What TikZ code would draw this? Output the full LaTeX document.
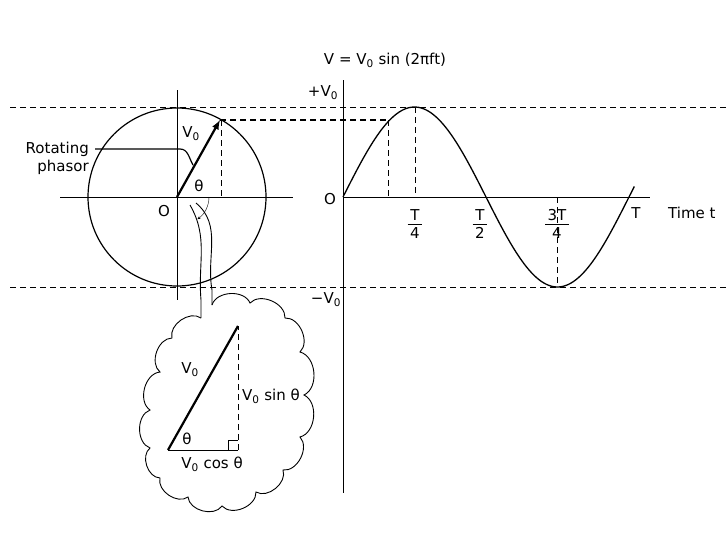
\documentclass[tikz,border=0pt]{standalone}
\usepackage{fontspec}
\setmainfont{DejaVu Sans}
\newcommand{\fr}[2]{\begin{tabular}{@{\,}c@{\,}}#1\\[-2pt]\hline\rule{0pt}{14pt}#2\end{tabular}}
\begin{document}
\begin{tikzpicture}[x=1pt,y=-1pt,font=\fontsize{15}{18}\selectfont,
  ax/.style={line width=0.8pt},
  dsh/.style={dashed,dash pattern=on 6pt off 4pt,line width=0.8pt},
  lbl/.style={inner sep=1pt}]
\useasboundingbox (0,0) rectangle (728,546);
% dashed level lines
\draw[dsh] (10,107) -- (728,107);
\draw[dsh] (10,287) -- (728,287);
% circle diagram
\coordinate (O) at (177,197);
\draw[line width=1.2pt] (O) circle (89);
\draw[ax] (60,197) -- (293,197);
\draw[ax] (177,90) -- (177,300);
\coordinate (tip) at (220,120);
\draw[line width=2.2pt,-latex] (O) -- (tip);
\draw[dsh,line width=1.2pt] (tip) -- (388,120);
\draw[dsh] (221,120) -- (221,197);
\draw[->,>=stealth] (209,197) arc (0:55:27);
\node[lbl] (th) at (199,186) {θ};
\node[lbl] (v0) at (191,134) {V\textsubscript{0}};
\node[lbl] (o1) at (164,211) {O};
\node[lbl,align=right,anchor=east] (rp) at (90,158) {Rotating\\phasor};
\draw[line width=1.2pt] (95,149) -- (180,149) to[out=0,in=120] (193,165);
% tail to cloud
\draw[line width=0.9pt] (190,205) to[out=-60,in=95] (201,300) -- (201,318);
\draw[line width=0.9pt] (196,203) to[out=-40,in=100] (212,290) -- (212,305);
% cloud
\draw[line width=0.9pt] (212,305) to[bend left=70] (250,303) to[bend left=70] (285,318)
 to[bend left=70] (300,352) to[bend left=70] (304,395) to[bend left=70] (300,437)
 to[bend left=70] (283,470) to[bend left=70] (256,492) to[bend left=70] (222,506)
 to[bend left=70] (188,497) to[bend left=70] (160,478) to[bend left=70] (150,448)
 to[bend left=70] (150,410) to[bend left=70] (160,372) to[bend left=70] (172,338)
 to[bend left=70] (201,318);
% triangle
\coordinate (A) at (168,450); \coordinate (B) at (238,450); \coordinate (C) at (238,326);
\draw[line width=2.2pt] (A) -- (C);
\draw[line width=0.9pt] (A) -- (B);
\draw[dsh] (B) -- (C);
\draw[line width=0.8pt] (228,450) -- (228,440) -- (238,440);
\node[lbl] (t2) at (187,439) {θ};
\node[lbl] (v2) at (190,370) {V\textsubscript{0}};
\node[lbl,anchor=west] (vs) at (241,396) {V\textsubscript{0} sin θ};
\node[lbl] (vc) at (212,464) {V\textsubscript{0} cos θ};
% graph
\draw[ax] (343,80) -- (343,493);
\draw[ax] (343,197) -- (650,197);
\draw[line width=1.3pt,domain=0:1.02,samples=120,smooth] plot ({343+286*\x},{197-90*sin(360*\x)});
\draw[dsh] (388,120) -- (388,197);
\draw[dsh] (415,107) -- (415,197);
\draw[dsh] (557,197) -- (557,287);
\node[lbl] (title) at (385,60) {V = V\textsubscript{0} sin (2πft)};
\node[lbl] (pv) at (323,93) {+V\textsubscript{0}};
\node[lbl] (mv) at (326,300) {−V\textsubscript{0}};
\node[lbl] (o2) at (330,199) {O};
\node[lbl] (q1) at (415,226) {\fr{T}{4}};
\node[lbl] (q2) at (480,226) {\fr{T}{2}};
\node[lbl] (q3) at (557,226) {\fr{3T}{4}};
\node[lbl] (tt) at (636,213) {T};
\node[lbl,anchor=west] (tm) at (667,213) {Time t};
\end{tikzpicture}
\end{document}
